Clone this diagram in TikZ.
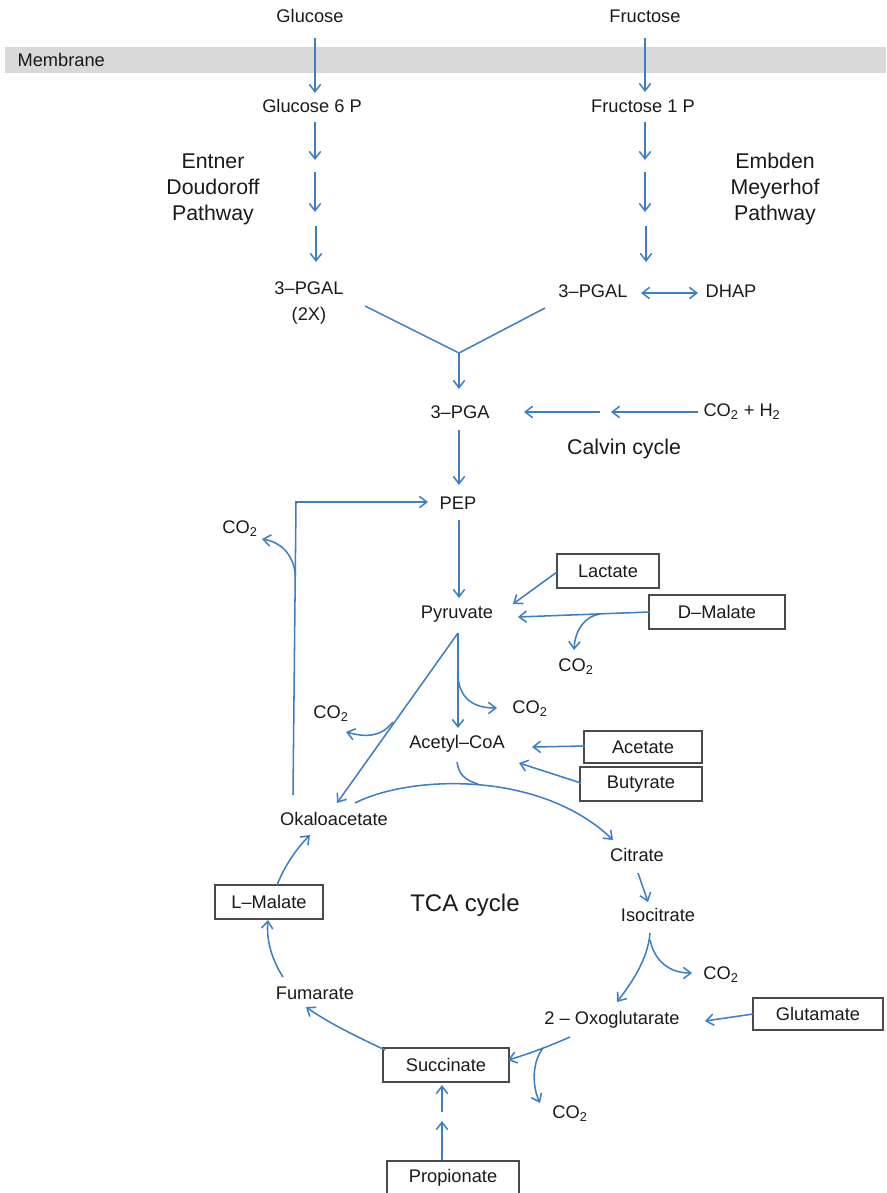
\documentclass[tikz,border=0pt]{standalone}
\usepackage{fontspec}
\setmainfont{Liberation Sans}
\usetikzlibrary{arrows.meta}
\definecolor{arrblue}{HTML}{3E7EC2}
\definecolor{boxgray}{HTML}{4A4A4A}
\definecolor{memgray}{HTML}{D9D9D9}
\definecolor{txt}{HTML}{1A1A1A}
\newcommand{\cotwo}{CO\textsubscript{2}}
\begin{document}
\begin{tikzpicture}[x=0.75pt,y=-0.75pt,
 lbl/.style={font=\fontsize{13.7}{16}\selectfont, text=txt, inner sep=1pt},
 ttl/.style={font=\fontsize{16}{19.5}\selectfont, text=txt, align=center, inner sep=0pt},
 boxn/.style={draw=boxgray, line width=1.3pt, fill=white, font=\fontsize{13.7}{16}\selectfont, text=txt, inner sep=0pt},
 ln/.style={draw=arrblue, line width=1.15pt},
 arr/.style={ln, -{Straight Barb[length=5.5pt,width=8.5pt]}},
 darr/.style={ln, {Straight Barb[length=5.5pt,width=8.5pt]}-{Straight Barb[length=5.5pt,width=8.5pt]}},
]
\useasboundingbox (0,0) rectangle (886,1193);
\fill[memgray] (5,47) rectangle (886,73);

% ---------- text nodes ----------
\node[lbl] (glc) at (310,16) {Glucose};
\node[lbl] (fru) at (645,16) {Fructose};
\node[lbl, anchor=west] (mem) at (16,60) {Membrane};
\node[lbl] (g6p) at (312,106) {Glucose 6 P};
\node[lbl] (f1p) at (643,106) {Fructose 1 P};
\node[ttl] (ed) at (213,189) {Entner\\Doudoroff\\Pathway};
\node[ttl] (emp) at (775,189) {Embden\\Meyerhof\\Pathway};
\node[lbl, align=center, font=\fontsize{13.7}{19.5}\selectfont] (pgalL) at (309,303) {3–PGAL\\(2X)};
\node[lbl] (pgalR) at (593,291) {3–PGAL};
\node[lbl] (dhap) at (731,291) {DHAP};
\node[lbl] (pga) at (460,412) {3–PGA};
\node[lbl] (co2h2) at (742,412) {CO\textsubscript{2} + H\textsubscript{2}};
\node[ttl] (calvin) at (624,449) {Calvin cycle};
\node[lbl] (pep) at (458,503) {PEP};
\node[lbl] (pyr) at (457,614) {Pyruvate};
\node[lbl] (acoa) at (457,744) {Acetyl–CoA};
\node[lbl] (oaa) at (334,819) {Okaloacetate};
\node[lbl] (cit) at (637,855) {Citrate};
\node[lbl] (icit) at (658,915) {Isocitrate};
\node[lbl] (oxo) at (612,1020) {2 – Oxoglutarate};
\node[lbl] (fum) at (315,993) {Fumarate};
\node[ttl, font=\fontsize{18}{20}\selectfont] (tca) at (465,905) {TCA cycle};

\node[lbl] (co2a) at (240,529) {\cotwo};
\node[lbl] (co2b) at (576,667) {\cotwo};
\node[lbl] (co2c) at (331,714) {\cotwo};
\node[lbl] (co2d) at (530,709) {\cotwo};
\node[lbl] (co2e) at (721,975) {\cotwo};
\node[lbl] (co2f) at (570,1114) {\cotwo};

% ---------- boxes ----------
\node[boxn, minimum width=77pt, minimum height=26pt] (lac) at (608,571) {Lactate};
\node[boxn, minimum width=102pt, minimum height=25pt] (dmal) at (717,612) {D–Malate};
\node[boxn, minimum width=88pt, minimum height=24pt] (ace) at (643,747) {Acetate};
\node[boxn, minimum width=91pt, minimum height=26pt] (but) at (641,784) {Butyrate};
\node[boxn, minimum width=97.5pt, minimum height=24pt] (glu) at (818,1014) {Glutamate};
\node[boxn, minimum width=95pt, minimum height=25pt] (suc) at (446,1065) {Succinate};
\node[boxn, minimum width=81pt, minimum height=25pt] (lmal) at (269,902) {L–Malate};
\node[boxn, minimum width=99pt, minimum height=26pt] (prop) at (453,1178) {Propionate};

% ---------- helper coordinates ----------
\path (315,38) coordinate (glcS)  (315,93) coordinate (g6pN)
      (645,38) coordinate (fruS)  (645,92) coordinate (f1pN)
      (315,122) coordinate (l1a) (315,160) coordinate (l1b)
      (315,172) coordinate (l2a) (315,212) coordinate (l2b)
      (316,226) coordinate (l3a) (316,262) coordinate (l3b)
      (645,122) coordinate (r1a) (645,160) coordinate (r1b)
      (645,172) coordinate (r2a) (645,212) coordinate (r2b)
      (646,226) coordinate (r3a) (646,262) coordinate (r3b)
      (641,293) coordinate (pgalRE) (698,293) coordinate (dhapW)
      (365,306) coordinate (yL) (545,308) coordinate (yR) (459,353) coordinate (yJ)
      (459,389) coordinate (pgaN)
      (524,412) coordinate (pgaE) (600,412) coordinate (cm1) (611,412) coordinate (cm2) (698,412) coordinate (co2h2W)
      (459,430) coordinate (pgaS) (459,485) coordinate (pepN)
      (459,520) coordinate (pepS) (459,598) coordinate (pyrN)
      (293,795) coordinate (oaaN) (296,502) coordinate (loopC) (428,502) coordinate (pepW)
      (295.5,575) coordinate (brA) (262,539) coordinate (co2aE)
      (458,633) coordinate (pyrS) (337,803) coordinate (oaaNE)
      (393,722) coordinate (brC) (346,732) coordinate (co2cE)
      (458,728) coordinate (acoaN)
      (458,677) coordinate (brD) (497,708) coordinate (co2dW)
      (557,572) coordinate (lacW) (513,604) coordinate (pyrNE)
      (649,612) coordinate (dmalW) (518,617) coordinate (pyrE)
      (600,614) coordinate (brB) (574,650) coordinate (co2bN)
      (585,746) coordinate (aceW) (532,747) coordinate (acoaE)
      (581,783) coordinate (butW) (519,763) coordinate (acoaSE)
      (355,803) coordinate (oaaE) (613,840) coordinate (citN)
      (457,762) coordinate (acoaS) (478,784) coordinate (arcJ)
      (638,873) coordinate (citS) (648,902) coordinate (icitN)
      (650,933) coordinate (icitS) (617,1002) coordinate (oxoN)
      (650,940) coordinate (brE) (692,973) coordinate (co2eW)
      (753,1014) coordinate (gluW) (705,1021) coordinate (oxoE)
      (570,1037) coordinate (oxoSW) (508,1060) coordinate (sucE)
      (543,1048) coordinate (brF) (540,1103) coordinate (co2fN)
      (442,1160) coordinate (p1a) (442,1121) coordinate (p1b)
      (442,1112) coordinate (p2a) (442,1085) coordinate (sucS)
      (385,1050) coordinate (sucNW) (306,1007) coordinate (fumSE)
      (283,977) coordinate (fumN) (268,920) coordinate (lmalS)
      (277,885) coordinate (lmalN) (310,835) coordinate (oaaS);

% ---------- connectors ----------
\draw[arr] (glcS) -- (g6pN);
\draw[arr] (fruS) -- (f1pN);
\draw[arr] (l1a) -- (l1b);
\draw[arr] (l2a) -- (l2b);
\draw[arr] (l3a) -- (l3b);
\draw[arr] (r1a) -- (r1b);
\draw[arr] (r2a) -- (r2b);
\draw[arr] (r3a) -- (r3b);
\draw[darr] (pgalRE) -- (dhapW);
\draw[ln] (yL) -- (yJ) -- (yR);
\draw[arr] (yJ) -- (pgaN);
\draw[arr] (cm1) -- (pgaE);
\draw[arr] (co2h2W) -- (cm2);
\draw[arr] (pgaS) -- (pepN);
\draw[arr] (pepS) -- (pyrN);
\draw[arr] (oaaN) -- (loopC) -- (pepW);
\draw[arr] (brA) .. controls (293,553) and (280,542) .. (co2aE);
\draw[arr] (pyrS) -- (oaaNE);
\draw[arr] (brC) .. controls (380,738) and (365,737) .. (co2cE);
\draw[arr] (pyrS) -- (acoaN);
\draw[arr] (brD) .. controls (460,700) and (475,708) .. (co2dW);
\draw[arr] (lacW) -- (pyrNE);
\draw[arr] (dmalW) -- (pyrE);
\draw[arr] (brB) .. controls (585,616) and (575,630) .. (co2bN);
\draw[arr] (aceW) -- (acoaE);
\draw[arr] (butW) -- (acoaSE);
\draw[arr] (oaaE) .. controls (410,775) and (540,770) .. (citN);
\draw[ln] (acoaS) .. controls (459,775) and (465,780) .. (arcJ);
\draw[arr] (citS) -- (icitN);
\draw[arr] (icitS) .. controls (648,960) and (630,985) .. (oxoN);
\draw[arr] (brE) .. controls (655,962) and (670,973) .. (co2eW);
\draw[arr] (gluW) -- (oxoE);
\draw[arr] (oxoSW) .. controls (545,1048) and (525,1055) .. (sucE);
\draw[arr] (brF) .. controls (532,1062) and (532,1086) .. (co2fN);
\draw[arr] (p1a) -- (p1b);
\draw[arr] (p2a) -- (sucS);
\draw[arr] (sucNW) .. controls (360,1038) and (330,1024) .. (fumSE);
\draw[arr] (fumN) .. controls (272,960) and (266,940) .. (lmalS);
\draw[arr] (lmalN) .. controls (285,865) and (297,848) .. (oaaS);
\end{tikzpicture}
\end{document}
